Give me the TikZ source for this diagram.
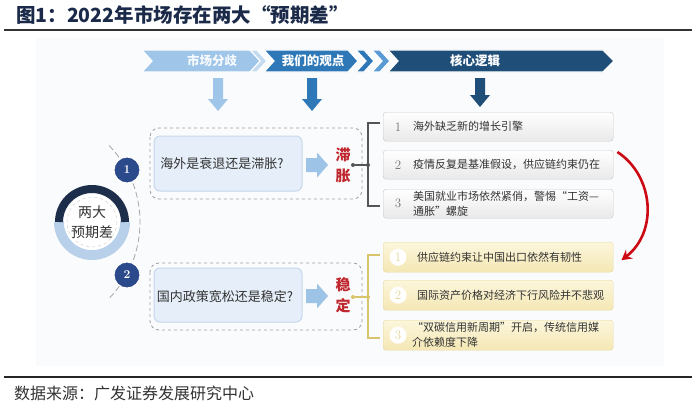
\documentclass[tikz,border=0pt]{standalone}
\usepackage{fontspec}
\newfontfamily\cjk{Noto Sans CJK SC}
\usetikzlibrary{arrows.meta,calc}
\definecolor{titlec}{HTML}{1B2A49}
\definecolor{cA}{HTML}{9FC5E8}
\definecolor{cAl}{HTML}{C5DCF0}
\definecolor{cB}{HTML}{2F78B8}
\definecolor{cBl}{HTML}{5B9BD5}
\definecolor{cC}{HTML}{1F4E79}
\definecolor{ringdark}{HTML}{1C2E4A}
\definecolor{ringlight}{HTML}{B8D0EA}
\definecolor{numfill}{HTML}{2B4A8B}
\definecolor{qfill}{HTML}{E6EFF9}
\definecolor{qdraw}{HTML}{C6D7EC}
\definecolor{qarrow}{HTML}{9DC3E6}
\definecolor{redt}{HTML}{C0262D}
\definecolor{redarrow}{HTML}{CC0A14}
\definecolor{brkgray}{HTML}{555555}
\definecolor{gold}{HTML}{D8C46A}
\definecolor{ytop}{HTML}{FCF6DC}
\definecolor{ybot}{HTML}{F4E7B4}
\definecolor{ydraw}{HTML}{E6D8A2}
\definecolor{ynum}{HTML}{E3D49A}
\definecolor{gbot}{HTML}{E9E9E9}
\definecolor{gdraw}{HTML}{C8C8C8}
\definecolor{bgc}{HTML}{FAFBFC}
\definecolor{txt}{HTML}{333333}
\newcommand\dnArrowShape[4]{\fill[#4] ({#1-5},#2) -- ({#1+5},#2) -- ({#1+5},{#3-12}) -- ({#1+10},{#3-12}) -- (#1,#3) -- ({#1-10},{#3-12}) -- ({#1-5},{#3-12}) -- cycle;}
\newcommand\rtArrowShape[3]{\fill[#3] (#1,{#2-7}) -- ({#1+11},{#2-7}) -- ({#1+11},{#2-12.5}) -- ({#1+22},#2) -- ({#1+11},{#2+12.5}) -- ({#1+11},{#2+7}) -- (#1,{#2+7}) -- cycle;}
\tikzset{
  chev/.style={draw=white, line width=1.2pt, line join=miter},
  bantext/.style={font=\cjk\bfseries\fontsize{12.5}{14}\selectfont, text=white},
  qouter/.style={draw=gray!75, dashed, line width=0.8pt, rounded corners=9pt},
  qinner/.style={draw=qdraw, fill=qfill, line width=1pt, rounded corners=6pt},
  qtext/.style={font=\cjk\fontsize{13}{15}\selectfont, text=txt},
  redchar/.style={font=\cjk\bfseries\fontsize{15}{16}\selectfont, text=redt},
  numc/.style={circle, fill=numfill, draw=white, line width=1pt, minimum size=26pt, inner sep=0pt, text=white, font=\bfseries\fontsize{12}{13}\selectfont},
  brk/.style={draw=brkgray, line width=1.4pt},
  brkgold/.style={draw=gold, line width=1.4pt},
  gbox/.style={draw=gdraw, top color=white, bottom color=gbot, rounded corners=3pt, minimum width=230pt, minimum height=29pt, inner sep=0pt, anchor=north west},
  ybox/.style={draw=ydraw, top color=ytop, bottom color=ybot, rounded corners=3pt, minimum width=230pt, minimum height=30pt, inner sep=0pt, anchor=north west},
  btext/.style={anchor=west, inner sep=0pt, align=left, font=\cjk\fontsize{11}{15}\selectfont, text=txt},
  gnum/.style={font=\fontsize{13}{14}\selectfont, text=gray!90!black},
  ynumc/.style={circle, fill=white, minimum size=17pt, inner sep=0pt, font=\fontsize{13}{14}\selectfont, text=ynum},
  dotn/.style={circle, inner sep=0pt, minimum size=4pt},
}
\begin{document}
\begin{tikzpicture}[x=1pt,y=-1pt]
\useasboundingbox (0,0) rectangle (700,404);
\fill[white] (0,0) rectangle (700,404);
\fill[bgc] (36,38) rectangle (664,366);
% title and rules
\node[anchor=west, inner sep=0pt, font=\cjk\bfseries\fontsize{19.5}{21}\selectfont, text=titlec] (title) at (16,15) {图1：2022年市场存在两大“预期差”};
\draw[black!80, line width=1.6pt] (4,30) -- (692,30);
\draw[black!85, line width=1.6pt] (4,377) -- (692,377);
\node[anchor=west, inner sep=0pt, font=\cjk\fontsize{16}{18}\selectfont, text=txt] (src) at (14,393) {数据来源：广发证券发展研究中心};
% banners
\fill[cA, chev] (142,50) -- (252,50) -- (262,61) -- (252,72) -- (142,72) -- (152,61) -- cycle;
\fill[cAl, chev] (250,50) -- (257,50) -- (267,61) -- (257,72) -- (250,72) -- (260,61) -- cycle;
\fill[cB, chev] (264,50) -- (348,50) -- (358,61) -- (348,72) -- (264,72) -- (274,61) -- cycle;
\fill[cB, chev] (356,50) -- (364,50) -- (374,61) -- (364,72) -- (356,72) -- (366,61) -- cycle;
\fill[cBl, chev] (372,50) -- (380,50) -- (390,61) -- (380,72) -- (372,72) -- (382,61) -- cycle;
\fill[cC, chev] (388,50) -- (603,50) -- (614,61) -- (603,72) -- (388,72) -- (398,61) -- cycle;
\node[bantext, text=white!92!cA] (b1) at (212,61) {市场分歧};
\node[bantext] (b2) at (313,61) {我们的观点};
\node[bantext] (b3) at (475,61) {核心逻辑};
% down arrows
\dnArrowShape{218}{78}{111}{cA}
\dnArrowShape{312}{78}{111}{cB}
\dnArrowShape{480}{78}{107}{cC}
% ring
\coordinate (rc) at (92,222);
\draw[ringlight, line width=10pt] (rc) ++(0:33) arc[start angle=0, end angle=180, radius=33];
\draw[ringdark, line width=8pt] (rc) ++(180:33) arc[start angle=180, end angle=360, radius=33];
\fill[white] (rc) circle (28);
\draw[gray!35, dashed, line width=0.5pt] (rc) circle (25);
\node[align=center, font=\cjk\fontsize{14}{20}\selectfont, text=txt] (ringtxt) at (rc) {两大\\预期差};
% dashed arc and numbers
\draw[gray!70, line width=0.8pt, dash pattern=on 6pt off 3pt] (30,222) ++(-44:110) arc[start angle=-44, end angle=44, radius=110];
\node[numc] (n1) at (127,170) {1};
\node[numc] (n2) at (127,275) {2};
% question boxes
\draw[qouter] (150,128) rectangle (362,199);
\draw[qinner] (154,136) rectangle (302,191);
\node[qtext] (q1) at (222,164) {海外是衰退还是滞胀?};
\rtArrowShape{306}{165}{qarrow}
\node[redchar] (r1a) at (343,155) {滞};
\node[redchar] (r1b) at (343,176) {胀};
\draw[qouter] (150,263) rectangle (362,330);
\draw[qinner] (154,268) rectangle (302,322);
\node[qtext] (q2) at (225,297) {国内政策宽松还是稳定?};
\rtArrowShape{306}{296}{qarrow}
\node[redchar] (r2a) at (343,285) {稳};
\node[redchar] (r2b) at (343,306) {定};
% brackets
\node[dotn, fill=brkgray] (d1) at (353,165) {};
\coordinate (k1) at (368,165);
\draw[brk] (d1) -- (k1);
\draw[brk] (380,123) -- (368,123) -- (368,206) -- (380,206);
\fill[brkgray] (k1) circle (2);
\node[dotn, fill=gold] (d2) at (353,297) {};
\coordinate (k2) at (368,297);
\draw[brkgold] (d2) -- (k2);
\draw[brkgold] (380,255) -- (368,255) -- (368,338) -- (380,338);
\fill[gold] (k2) circle (2);
% gray boxes
\node[gbox] (g1) at (383,112) {};
\node[gbox] (g2) at (383,150) {};
\node[gbox] (g3) at (383,189) {};
\node[gnum] (gn1) at (g1.west -| 398,0) {1};
\node[gnum] (gn2) at (g2.west -| 398,0) {2};
\node[gnum] (gn3) at (g3.west -| 398,0) {3};
\node[btext] (gt1) at (g1.west -| 413,0) {海外缺乏新的增长引擎};
\node[btext] (gt2) at (g2.west -| 413,0) {疫情反复是基准假设，供应链约束仍在};
\node[btext] (gt3) at (g3.west -| 413,0) {美国就业市场依然紧俏，警惕“工资—\\通胀”螺旋};
% yellow boxes
\node[ybox] (y1) at (383,242) {};
\node[ybox] (y2) at (383,280) {};
\node[ybox] (y3) at (383,320) {};
\node[ynumc] (yn1) at (y1.west -| 398,0) {1};
\node[ynumc] (yn2) at (y2.west -| 398,0) {2};
\node[ynumc] (yn3) at (y3.west -| 398,0) {3};
\node[btext] (yt1) at (y1.west -| 417,0) {供应链约束让中国出口依然有韧性};
\node[btext] (yt2) at (y2.west -| 417,0) {国际资产价格对经济下行风险并不悲观};
\node[btext] (yt3) at (y3.west -| 412,0) {“双碳信用新周期”开启，传统信用媒\\介依赖度下降};
% red curved arrow
\draw[redarrow, line width=2.6pt, -{Stealth[length=10pt, width=11pt]}] ($(g2.north east)+(4,2)$) .. controls (654,176) and (658,232) .. ($(y1.east)+(8,3)$);
\end{tikzpicture}
\end{document}
